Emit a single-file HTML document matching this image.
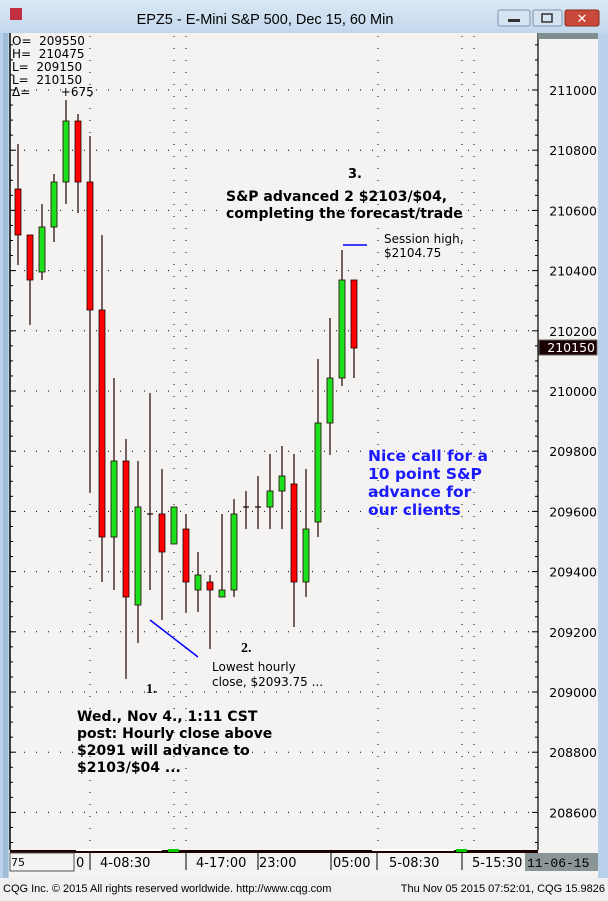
<!DOCTYPE html>
<html><head><meta charset="utf-8"><style>
body{margin:0;width:608px;height:896px;overflow:hidden;background:#f0f0f0;font-family:"Liberation Sans","DejaVu Sans",sans-serif}
svg text{font-family:"DejaVu Sans","Liberation Sans",sans-serif;white-space:pre}
</style></head><body>
<svg id="s" width="608" height="896" xmlns="http://www.w3.org/2000/svg">
<defs><linearGradient id="tb" x1="0" y1="0" x2="0" y2="1"><stop offset="0" stop-color="#dbe8f5"/><stop offset="1" stop-color="#c3d7ec"/></linearGradient></defs>
<rect x="0" y="0" width="608" height="878" fill="#b9d1ea"/>
<rect x="0" y="0" width="608" height="33" fill="url(#tb)"/>
<rect x="10" y="8" width="12" height="12" fill="#c03040"/>
<text x="265" y="24" font-size="14.5" text-anchor="middle" fill="#000" style="font-family:'Liberation Sans',sans-serif">EPZ5 - E-Mini S&amp;P 500, Dec 15, 60 Min</text>
<rect x="498" y="10" width="32" height="16" rx="2" fill="#d6e3f1" stroke="#7f93ad"/>
<rect x="508" y="19" width="12" height="3" fill="#333"/>
<rect x="533" y="10" width="29" height="16" rx="2" fill="#d6e3f1" stroke="#7f93ad"/>
<rect x="542" y="14" width="10" height="8" fill="none" stroke="#333" stroke-width="1.5"/>
<rect x="565" y="10" width="34" height="16" rx="2" fill="#c9483a" stroke="#8a2a20"/>
<text x="582" y="23" font-size="13" font-weight="bold" fill="#fff" text-anchor="middle">✕</text>
<rect x="9" y="33" width="589" height="845" fill="#f5f2f2"/>
<rect x="3" y="33" width="5" height="845" fill="#9fbcd8"/>
<line x1="10" y1="33" x2="10" y2="850" stroke="#000" stroke-width="1.5"/>
<line x1="538" y1="33" x2="538" y2="850" stroke="#000" stroke-width="1.2"/>
<rect x="538" y="33" width="60" height="6" fill="#7f8f8f"/>
<g id="g"></g>
<rect x="10" y="850" width="528" height="3" fill="#1a0000"/>
<rect x="76" y="849" width="86" height="2" fill="#fff"/>
<rect x="168" y="849" width="11" height="3" fill="#0c0"/>
<rect x="372" y="849" width="82" height="2" fill="#fff"/>
<rect x="456" y="849" width="11" height="3" fill="#0c0"/>
<rect x="10" y="853" width="64" height="18" fill="#f5f2f2" stroke="#555"/>
<text x="11" y="866" font-size="11" fill="#000">75</text>
<g font-size="13" fill="#000" style="font-family:'Liberation Mono',monospace">
<text x="76" y="867">0</text><text x="100" y="867">4-08:30</text><text x="196" y="867">4-17:00</text><text x="259" y="867">23:00</text><text x="333" y="867">05:00</text><text x="389" y="867">5-08:30</text><text x="472" y="867">5-15:30</text>
</g>
<g stroke="#000"><line x1="90" y1="853" x2="90" y2="870"/><line x1="186" y1="853" x2="186" y2="870"/><line x1="258" y1="853" x2="258" y2="870"/><line x1="331" y1="853" x2="331" y2="870"/><line x1="377" y1="853" x2="377" y2="870"/><line x1="462" y1="853" x2="462" y2="870"/></g>
<rect x="525" y="853" width="73" height="18" fill="#8a9696"/>
<text x="527" y="867" font-size="13" fill="#000" style="font-family:'Liberation Mono',monospace">11-06-15</text>
<rect x="0" y="878" width="608" height="18" fill="#f0f0f0"/>
<text x="3" y="892" font-size="11" fill="#000" style="font-family:'Liberation Sans',sans-serif">CQG Inc. © 2015 All rights reserved worldwide. http://www.cqg.com</text>
<text x="605" y="892" font-size="11" fill="#000" text-anchor="end" style="font-family:'Liberation Sans',sans-serif">Thu Nov 05 2015 07:52:01, CQG 15.9826</text>
<rect x="539" y="340" width="58" height="15" fill="#1a0000" stroke="#666"/>
<text x="595" y="352" font-size="12.5" fill="#fff" text-anchor="end">210150</text>
<g font-size="12" fill="#000"><text x="12" y="45">O=  209550</text><text x="12" y="58">H=  210475</text><text x="12" y="71">L=  209150</text><text x="12" y="84">L=  210150</text><text x="12" y="96">Δ=        +675</text></g>
<text x="348" y="178" font-size="13" font-weight="bold" fill="#000">3.</text>
<text x="226" y="201" font-size="14" font-weight="bold" fill="#000">S&amp;P advanced 2 $2103/$04,</text>
<text x="226" y="218" font-size="14" font-weight="bold" fill="#000">completing the forecast/trade</text>
<line x1="343" y1="245" x2="367" y2="245" stroke="#00f" stroke-width="1.5"/>
<text x="384" y="243" font-size="12" fill="#000">Session high,</text>
<text x="384" y="257" font-size="12" fill="#000">$2104.75</text>
<g font-size="15.5" font-weight="bold" fill="#1a1aff"><text x="368" y="461">Nice call for a</text><text x="368" y="479">10 point S&amp;P</text><text x="368" y="497">advance for</text><text x="368" y="515">our clients</text></g>
<line x1="150" y1="620" x2="198" y2="657" stroke="#00f" stroke-width="1.5"/>
<text x="241" y="652" font-size="14" font-weight="bold" fill="#000" style="font-family:'Liberation Serif',serif">2.</text>
<text x="212" y="671" font-size="12" fill="#000">Lowest hourly</text>
<text x="212" y="686" font-size="12" fill="#000">close, $2093.75 ...</text>
<text x="146" y="693" font-size="14" font-weight="bold" fill="#000" style="font-family:'Liberation Serif',serif">1.</text>
<g font-size="14" font-weight="bold" fill="#000"><text x="77" y="721">Wed., Nov 4., 1:11 CST</text><text x="77" y="738">post: Hourly close above</text><text x="77" y="755">$2091 will advance to</text><text x="77" y="772">$2103/$04 ...</text></g>
</svg>
<script>
var g=document.getElementById('g'),h='';
function Y(p){return 391-(p-210000)*0.301;}
for(var p=208600;p<=211000;p+=200){var y=Y(p);h+='<line x1="12" y1="'+y+'" x2="536" y2="'+y+'" stroke="#000" stroke-dasharray="1 11"/>';
h+='<text x="597" y="'+(y+5)+'" font-size="12.5" text-anchor="end" fill="#000">'+p+'</text>';}
for(var p=208500;p<=211150;p+=50){var y=Y(p);var L=(p%200==0)?6:3;h+='<line x1="10" y1="'+y+'" x2="'+(10+L)+'" y2="'+y+'" stroke="#000"/><line x1="'+(538-L)+'" y1="'+y+'" x2="538" y2="'+y+'" stroke="#000"/>';}
[90,174,186,378,462,474].forEach(function(x){h+='<line x1="'+x+'" y1="36" x2="'+x+'" y2="848" stroke="#000" stroke-dasharray="1 11"/>';});
var c=[[18,'r',189,235,144,265],[30,'r',235,280,235,325],[42,'g',227,272,204,280],[54,'g',182,227,174,242],[66,'g',121,182,100,204],[78,'r',121,182,114,213],[90,'r',182,310,136,492],[102,'r',310,537,235,582],[114,'g',461,537,378,590],[126,'r',461,597,439,679],[138,'g',507,605,461,643],[150,'d',514,514,393,590],[162,'r',514,552,469,620],[174,'g',507,544,507,544],[186,'r',529,582,514,612],[198,'g',575,590,552,612],[210,'r',582,590,575,649],[222,'g',590,597,514,597],[234,'g',514,590,499,597],[246,'d',507,507,491,529],[258,'d',507,507,476,529],[270,'g',491,507,454,529],[282,'g',476,491,446,529],[294,'r',484,582,454,627],[306,'g',529,582,469,597],[318,'g',423,522,359,537],[330,'g',378,423,318,455],[342,'g',280,378,250,386],[354,'r',280,348,280,378]];
c.forEach(function(k){var x=k[0];h+='<line x1="'+x+'" y1="'+k[4]+'" x2="'+x+'" y2="'+k[5]+'" stroke="#200" stroke-width="1.2"/>';
if(k[1]=='d')h+='<line x1="'+(x-3)+'" y1="'+k[2]+'" x2="'+(x+3)+'" y2="'+k[2]+'" stroke="#200" stroke-width="1.2"/>';
else h+='<rect x="'+(x-3)+'" y="'+k[2]+'" width="6" height="'+(k[3]-k[2])+'" fill="'+(k[1]=='r'?'#f00':'#1ee01e')+'" stroke="#200" stroke-width="0.8"/>';});
g.innerHTML=h;
</script>
</body></html>
